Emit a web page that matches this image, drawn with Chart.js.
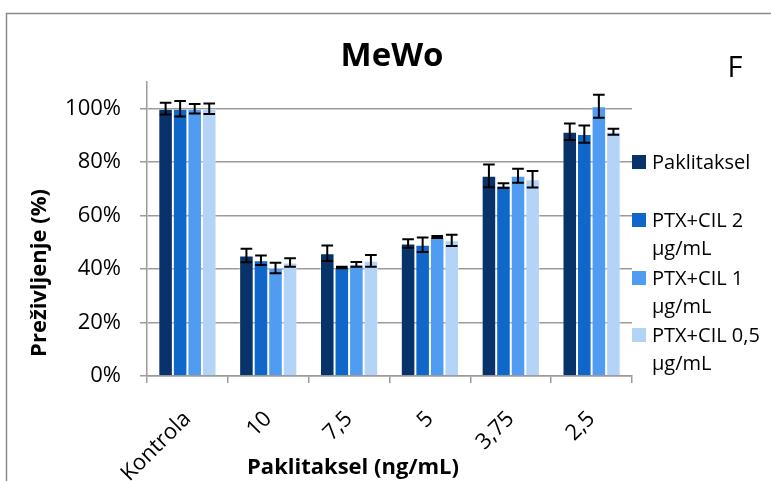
<!DOCTYPE html>
<html><head><meta charset="utf-8">
<script src="https://cdn.jsdelivr.net/npm/chart.js@4"></script>
<style>html,body{margin:0;padding:0;background:#fff;overflow:hidden}</style>
</head><body>
<canvas id="c" width="771" height="481"></canvas>
<script>
const categories = ['Kontrola', '10', '7,5', '5', '3,75', '2,5'];
const seriesNames = ['Paklitaksel', 'PTX+CIL 2 µg/mL', 'PTX+CIL 1 µg/mL', 'PTX+CIL 0,5 µg/mL'];
const legendLines = [['Paklitaksel'], ['PTX+CIL 2', 'µg/mL'], ['PTX+CIL 1', 'µg/mL'], ['PTX+CIL 0,5', 'µg/mL']];
const paklitaksel = [100, 45.1, 45.9, 49.6, 74.9, 91.4];
const paklitakselErr = [2.2, 2.5, 2.9, 1.6, 4.25, 3.1];
const cil2 = [100, 43.3, 40.6, 49.1, 71.25, 90.5];
const cil2Err = [2.9, 1.75, 0.3, 2.7, 0.9, 3.2];
const cil1 = [100, 40.4, 41.75, 52.0, 74.9, 100.9];
const cil1Err = [1.8, 2.0, 0.9, 0.4, 2.6, 4.3];
const cil05 = [100, 42.5, 43.1, 50.75, 73.6, 91.4];
const cil05Err = [2.0, 1.6, 2.2, 2.1, 3.1, 1.1];
const yTicks = [0, 20, 40, 60, 80, 100];
const yMax = 110;
const colors = ['#08336a', '#0f67c9', '#4f9cf2', '#b3d3f7'];

const FONT = "'Open Sans', sans-serif";
const values = [paklitaksel, cil2, cil1, cil05];
const errors = [paklitakselErr, cil2Err, cil1Err, cil05Err];

const errorBarPlugin = {
  id: 'errorBars',
  afterDatasetsDraw(chart) {
    const ctx = chart.ctx;
    const y = chart.scales.y;
    ctx.save();
    ctx.strokeStyle = '#000';
    ctx.lineWidth = 2;
    chart.data.datasets.forEach((ds, di) => {
      const meta = chart.getDatasetMeta(di);
      meta.data.forEach((bar, i) => {
        const v = ds.data[i], e = errors[di][i];
        const top = y.getPixelForValue(v + e), bot = y.getPixelForValue(v - e);
        const hw = bar.width * 0.4;
        ctx.beginPath();
        ctx.moveTo(bar.x, top); ctx.lineTo(bar.x, bot);
        ctx.moveTo(bar.x - hw, top); ctx.lineTo(bar.x + hw, top);
        ctx.moveTo(bar.x - hw, bot); ctx.lineTo(bar.x + hw, bot);
        ctx.stroke();
      });
    });
    ctx.restore();
  }
};

const decorPlugin = {
  id: 'decor',
  afterDraw(chart) {
    const ctx = chart.ctx;
    ctx.save();
    // frame
    ctx.strokeStyle = '#8a8a8a';
    ctx.lineWidth = 1.5;
    ctx.beginPath();
    ctx.moveTo(6.5, 481); ctx.lineTo(6.5, 13.5); ctx.lineTo(771, 13.5);
    ctx.stroke();
    ctx.fillStyle = '#000';
    ctx.textBaseline = 'middle';
    // title
    ctx.font = 'bold 33px ' + FONT;
    ctx.textAlign = 'center';
    ctx.fillText('MeWo', 392, 57);
    // panel letter
    ctx.font = '29px ' + FONT;
    ctx.fillText('F', 735, 69);
    // x axis title
    ctx.font = 'bold 22px ' + FONT;
    ctx.fillText('Paklitaksel (ng/mL)', 353, 468);
    // y axis title
    ctx.save();
    ctx.translate(40, 273);
    ctx.rotate(-Math.PI / 2);
    ctx.fillText('Preživljenje (%)', 0, 0);
    ctx.restore();
    // legend
    const tops = [155, 213, 271, 328];
    ctx.textAlign = 'left';
    ctx.font = '20px ' + FONT;
    legendLines.forEach((lines, i) => {
      ctx.fillStyle = colors[i];
      ctx.fillRect(632, tops[i], 14, 14);
      ctx.fillStyle = '#000';
      lines.forEach((t, k) => ctx.fillText(t, 652, tops[i] + 8 + k * 28));
    });
    ctx.restore();
  }
};

new Chart(document.getElementById('c'), {
  type: 'bar',
  data: {
    labels: categories,
    datasets: seriesNames.map((n, i) => ({
      label: n,
      data: values[i],
      backgroundColor: colors[i],
      borderColor: 'rgba(255,255,255,0.35)',
      borderWidth: 1,
      barPercentage: 1.0,
      categoryPercentage: 0.72
    }))
  },
  options: {
    responsive: false,
    animation: false,
    devicePixelRatio: 1,
    layout: { padding: { left: 0, top: 82, right: 139, bottom: 0 } },
    plugins: { legend: { display: false }, title: { display: false }, tooltip: { enabled: false } },
    scales: {
      x: {
        grid: { drawOnChartArea: false, drawTicks: true, tickLength: 7, color: '#9b9b9b', lineWidth: 1.5, offset: true },
        border: { color: '#9b9b9b', width: 1.5 },
        ticks: { color: '#000', font: { family: FONT, size: 22 }, minRotation: 45, maxRotation: 45, padding: 23 },
        afterFit(s) { s.height = 105; }
      },
      y: {
        min: 0, max: yMax,
        afterBuildTicks(s) { s.ticks = yTicks.map(v => ({ value: v })); },
        grid: { color: '#9b9b9b', lineWidth: 1.5, tickLength: 7 },
        border: { color: '#9b9b9b', width: 1.5 },
        ticks: { color: '#000', font: { family: FONT, size: 22 }, padding: 19, callback: v => v + '%' },
        afterFit(s) { s.width = 147; }
      }
    }
  },
  plugins: [errorBarPlugin, decorPlugin]
});
</script>
</body></html>
